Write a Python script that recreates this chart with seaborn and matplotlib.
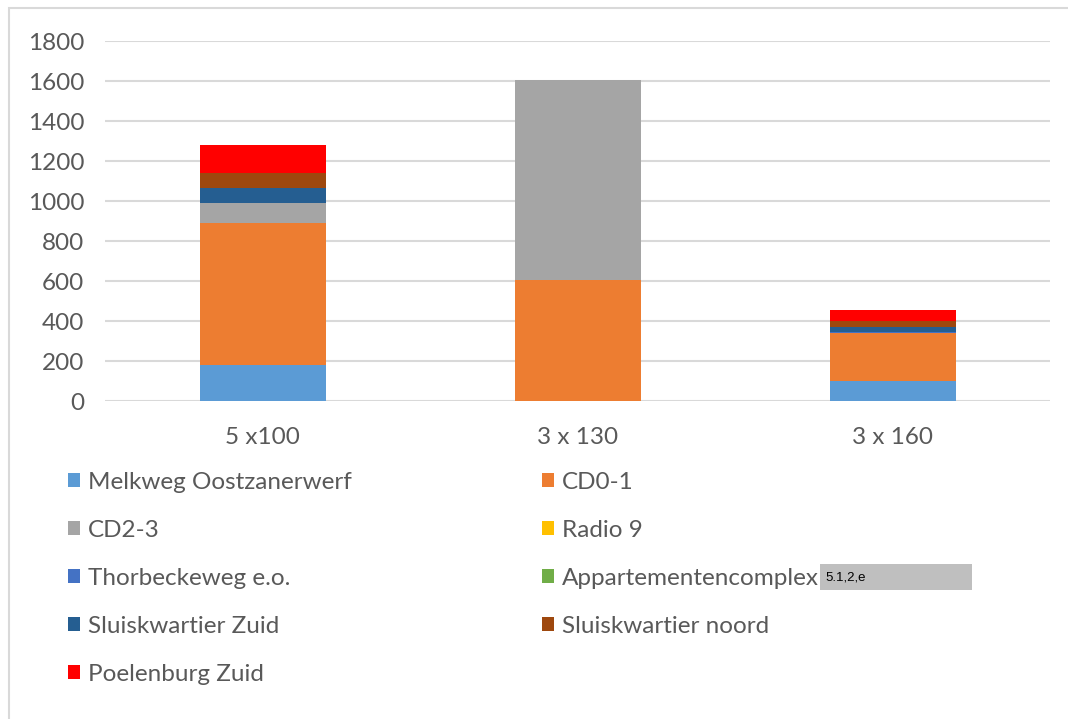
import matplotlib
matplotlib.use("Agg")
import matplotlib.pyplot as plt
import seaborn as sns
import numpy as np
from matplotlib.patches import Rectangle, Patch

# categories and stacked series
categories = ["5 x100", "3 x 130", "3 x 160"]
melkweg = [180, 0, 100]
cd01 = [710, 605, 240]
cd23 = [100, 1000, 0]
radio9 = [0, 0, 0]
thorbeckeweg = [0, 0, 5]
appartement = [0, 0, 0]
sluis_zuid = [75, 0, 25]
sluis_noord = [75, 0, 30]
poelenburg = [140, 0, 55]

series_names = ["Melkweg Oostzanerwerf", "CD0-1", "CD2-3", "Radio 9",
                "Thorbeckeweg e.o.", "Appartementencomplex",
                "Sluiskwartier Zuid", "Sluiskwartier noord", "Poelenburg Zuid"]
series_values = [melkweg, cd01, cd23, radio9, thorbeckeweg, appartement,
                 sluis_zuid, sluis_noord, poelenburg]
colors = ["#5B9BD5", "#ED7D31", "#A5A5A5", "#FFC000", "#4472C4",
          "#70AD47", "#255E91", "#9E480E", "#FF0000"]

sns.set_theme(style="white")
plt.rcParams["font.family"] = ["Lato", "DejaVu Sans"]
txt = "#595959"
fs = 17.5

fig = plt.figure(figsize=(10.68, 7.19), dpi=100)
ax = fig.add_axes([105 / 1068, 1 - 401 / 719, 945 / 1068, 360 / 719])

bottom = np.zeros(len(categories))
handles = []
for name, vals, col in zip(series_names, series_values, colors):
    sns.barplot(x=categories, y=vals, bottom=bottom, color=col, width=0.4,
                errorbar=None, ax=ax, saturation=1, linewidth=0)
    bottom = bottom + np.array(vals)
    handles.append(Patch(facecolor=col, edgecolor="none", label=name))

ax.set_ylim(0, 1800)
ax.set_xlim(-0.5, 2.5)
ax.set_yticks(range(0, 1801, 200))
ax.yaxis.grid(True, color="#D9D9D9", linewidth=1.5)
ax.set_axisbelow(True)
for s in ax.spines.values():
    s.set_visible(False)
ax.tick_params(axis="y", length=0, pad=15, labelsize=fs, labelcolor=txt)
ax.tick_params(axis="x", length=0, pad=19, labelsize=fs, labelcolor=txt)
ax.set_xlabel("")
ax.set_ylabel("")

# legend in two columns, row-major order like the original
order = [0, 2, 4, 6, 8, 1, 3, 5, 7]
leg = fig.legend([handles[i] for i in order], [series_names[i] for i in order],
                 loc="upper left", bbox_to_anchor=(68 / 1068, 1 - 472 / 719),
                 ncol=2, frameon=False, fontsize=fs, handlelength=0.5,
                 handleheight=0.5, handletextpad=0.33, labelspacing=1.11,
                 columnspacing=7.8, borderpad=0, borderaxespad=0)
for t in leg.get_texts():
    t.set_color(txt)

# redaction box next to Appartementencomplex
fig.patches.append(Rectangle((820 / 1068, 1 - 590 / 719), 152 / 1068, 26 / 719,
                             transform=fig.transFigure, facecolor="#BFBFBF",
                             edgecolor="none"))
fig.text(825 / 1068, 1 - 577 / 719, "5.1,2,e", fontsize=9.5, color="black",
         va="center", ha="left", family=["Liberation Sans", "DejaVu Sans"])

# outer chart border
fig.patches.append(Rectangle((9 / 1068, -0.05), 1.1, 1.05 - 8 / 719,
                             transform=fig.transFigure, facecolor="none",
                             edgecolor="#D9D9D9", linewidth=1.5))

fig.savefig("out.png", dpi=100)
